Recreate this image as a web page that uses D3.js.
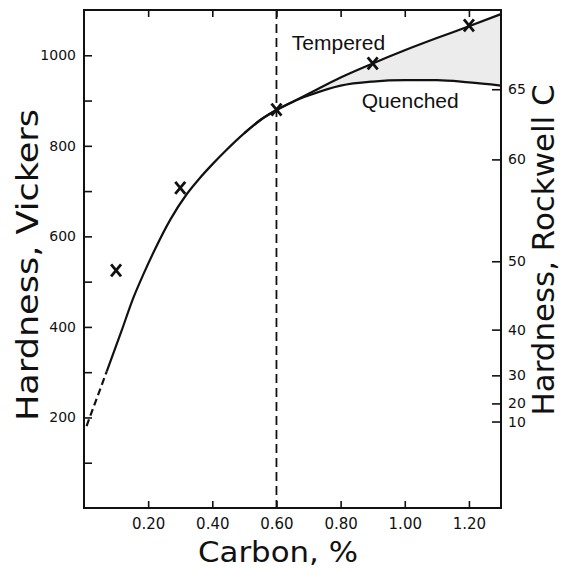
<!DOCTYPE html>
<html>
<head>
<meta charset="utf-8">
<script src="https://cdn.jsdelivr.net/npm/d3@7.9.0/dist/d3.min.js"></script>
<style>
  body { margin: 0; background: #fff; }
  svg { display: block; }
  .tick text { font-family: "DejaVu Sans", sans-serif; fill: #111; }
  .title { font-family: "DejaVu Sans", sans-serif; fill: #111; }
  .note { font-family: "Liberation Sans", Arial, sans-serif; font-size: 21px; fill: #111; }
</style>
</head>
<body>
<div id="chart"></div>
<script>
// common part of the curve (dashed at the low end)
const dashCarbon = [0.008, 0.071];
const dashHV = [181, 302];
const mainCarbon = [0.071, 0.117, 0.152, 0.185, 0.221, 0.27, 0.32, 0.36, 0.40, 0.44, 0.50, 0.55];
const mainHV = [302, 391, 461, 516, 571, 638, 693, 728, 759, 788, 828, 857];

// after 0.60 % C the curve splits
const splitCarbon = [0.60, 0.65, 0.70, 0.80, 0.90, 1.00, 1.10, 1.20, 1.30];
const temperedHV = [879, 897, 915, 951, 982, 1011, 1038, 1064, 1091];
const quenchedHV = [879, 897, 911, 933, 942, 945, 945, 940, 933];

// measured points (X marks)
const pointCarbon = [0.10, 0.30, 0.60, 0.90, 1.20];
const pointHV = [525, 707, 880, 982, 1066];

const carbonTicks = [0.2, 0.4, 0.6, 0.8, 1.0, 1.2];
const carbonLabels = ['0.20', '0.40', '0.60', '0.80', '1.00', '1.20'];
const vickersTicks = [100, 200, 300, 400, 500, 600, 700, 800, 900, 1000];
const vickersLabels = ['', '200', '', '400', '', '600', '', '800', '', '1000'];
const rockwellLabels = ['65', '60', '50', '40', '30', '20', '10'];
const rockwellHV = [925, 770, 545, 394, 293, 231, 191];

const width = 561;
const height = 569;
const margin = { top: 10, right: 60, bottom: 61, left: 84 };

const svg = d3.select('#chart')
  .append('svg')
  .attr('width', width)
  .attr('height', height);

const x = d3.scaleLinear()
  .domain([0, 1.3])
  .range([margin.left, width - margin.right]);

const y = d3.scaleLinear()
  .domain([0, 1100])
  .range([height - margin.bottom, margin.top]);

// shaded band between tempered and quenched
const band = splitCarbon.map((c, i) => ({ c, lo: quenchedHV[i], hi: temperedHV[i] }));
svg.append('path')
  .datum(band)
  .attr('fill', '#ececec')
  .attr('d', d3.area()
    .x(d => x(d.c))
    .y0(d => y(d.lo))
    .y1(d => y(d.hi))
    .curve(d3.curveMonotoneX));

// dashed vertical at 0.60
svg.append('line')
  .attr('x1', x(0.6)).attr('x2', x(0.6))
  .attr('y1', y(1100)).attr('y2', y(0))
  .attr('stroke', '#111')
  .attr('stroke-width', 1.8)
  .attr('stroke-dasharray', '9,5');

const line = d3.line()
  .x(d => x(d[0]))
  .y(d => y(d[1]))
  .curve(d3.curveMonotoneX);

const temperedPts = d3.zip(mainCarbon, mainHV).concat(d3.zip(splitCarbon, temperedHV));
const quenchedPts = d3.zip(mainCarbon.slice(-2), mainHV.slice(-2)).concat(d3.zip(splitCarbon, quenchedHV));

svg.append('path')
  .datum(d3.zip(dashCarbon, dashHV))
  .attr('fill', 'none')
  .attr('stroke', '#111')
  .attr('stroke-width', 2.2)
  .attr('stroke-dasharray', '7,4')
  .attr('d', line);

[temperedPts, quenchedPts].forEach(pts => {
  svg.append('path')
    .datum(pts)
    .attr('fill', 'none')
    .attr('stroke', '#111')
    .attr('stroke-width', 2.2)
    .attr('d', line);
});

// X marks
svg.append('g')
  .selectAll('path')
  .data(d3.zip(pointCarbon, pointHV))
  .join('path')
  .attr('transform', d => `translate(${x(d[0])},${y(d[1])})`)
  .attr('d', 'M-5,-6L5,6M5,-6L-5,6')
  .attr('fill', 'none')
  .attr('stroke', '#111')
  .attr('stroke-width', 2.8);

// axes (ticks point inward)
const bottom = svg.append('g')
  .attr('transform', `translate(0,${y(0)})`)
  .call(d3.axisBottom(x)
    .tickValues(carbonTicks)
    .tickFormat((d, i) => carbonLabels[i])
    .tickSize(-7)
    .tickPadding(10));

svg.append('g')
  .attr('transform', `translate(0,${y(1100)})`)
  .call(d3.axisTop(x)
    .tickValues(carbonTicks)
    .tickFormat('')
    .tickSize(-7));

const left = svg.append('g')
  .attr('transform', `translate(${x(0)},0)`)
  .call(d3.axisLeft(y)
    .tickValues(vickersTicks)
    .tickFormat((d, i) => vickersLabels[i])
    .tickSize(-8)
    .tickPadding(8));

const right = svg.append('g')
  .attr('transform', `translate(${x(1.3)},0)`)
  .call(d3.axisRight(y)
    .tickValues(rockwellHV)
    .tickFormat((d, i) => rockwellLabels[i])
    .tickSize(-9)
    .tickPadding(7));

svg.selectAll('.domain').remove();
svg.selectAll('.tick line').attr('stroke', '#111').attr('stroke-width', 1.6);
bottom.selectAll('text').attr('font-size', 15);
left.selectAll('text').attr('font-size', 14);
right.selectAll('text').attr('font-size', 14);

// frame
svg.append('rect')
  .attr('x', x(0)).attr('y', y(1100))
  .attr('width', x(1.3) - x(0))
  .attr('height', y(0) - y(1100))
  .attr('fill', 'none')
  .attr('stroke', '#111')
  .attr('stroke-width', 2);

// curve labels
svg.append('text').attr('class', 'note')
  .attr('x', x(0.648)).attr('y', y(1012))
  .text('Tempered');
svg.append('text').attr('class', 'note')
  .attr('x', x(0.866)).attr('y', y(884))
  .text('Quenched');

// axis titles
svg.append('text').attr('class', 'title')
  .attr('transform', 'translate(38,265) rotate(-90)')
  .attr('text-anchor', 'middle')
  .attr('font-size', 30)
  .attr('textLength', 312)
  .attr('lengthAdjust', 'spacingAndGlyphs')
  .text('Hardness, Vickers');

svg.append('text').attr('class', 'title')
  .attr('transform', 'translate(554,250) rotate(-90)')
  .attr('text-anchor', 'middle')
  .attr('font-size', 30)
  .attr('textLength', 331)
  .attr('lengthAdjust', 'spacingAndGlyphs')
  .text('Hardness, Rockwell C');

svg.append('text').attr('class', 'title')
  .attr('x', 278).attr('y', 562)
  .attr('text-anchor', 'middle')
  .attr('font-size', 29)
  .attr('textLength', 160)
  .attr('lengthAdjust', 'spacingAndGlyphs')
  .text('Carbon, %');
</script>
</body>
</html>
